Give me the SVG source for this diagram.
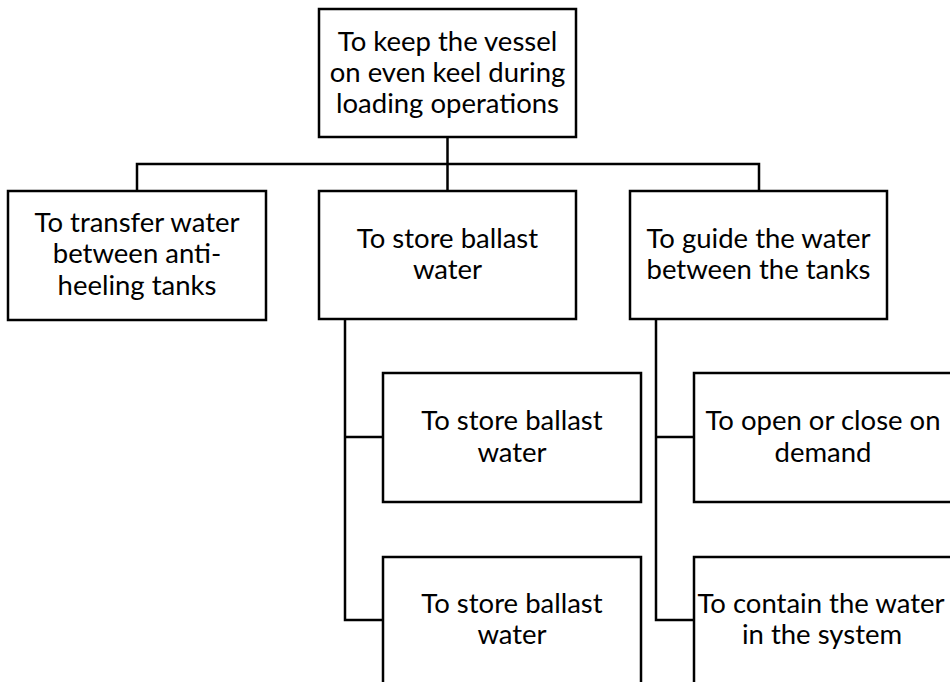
<svg xmlns="http://www.w3.org/2000/svg" width="950" height="682" viewBox="0 0 950 682">
<style>
.box{fill:#fff;stroke:#000;stroke-width:2.5}
.ln{fill:none;stroke:#000;stroke-width:2.5}
text{font-family:Lato,"Liberation Sans",sans-serif;font-size:27.5px;fill:#000;text-anchor:middle}
</style>
<rect width="950" height="682" fill="#fff"/>
<g id="connectors">
<path class="ln" d="M447.5 137V191M137 191V164H759V191"/>
<path class="ln" d="M345 319V620H383M345 437H383"/>
<path class="ln" d="M656 319V620H694M656 437H694"/>
</g>
<g id="root"><rect class="box" x="319" y="9" width="257" height="128"/>
<text x="447.5" y="51">To keep the vessel</text><text x="447.5" y="82">on even keel during</text><text x="447.5" y="113">loading operations</text></g>
<g id="transfer"><rect class="box" x="8" y="191" width="258" height="129"/>
<text x="137" y="232">To transfer water</text><text x="137" y="263">between anti-</text><text x="137" y="295">heeling tanks</text></g>
<g id="store"><rect class="box" x="319" y="191" width="257" height="128"/>
<text x="447.5" y="248">To store ballast</text><text x="447.5" y="279">water</text></g>
<g id="guide"><rect class="box" x="630" y="191" width="257" height="128"/>
<text x="758.5" y="248">To guide the water</text><text x="758.5" y="279">between the tanks</text></g>
<g id="store1"><rect class="box" x="383" y="373" width="258" height="129"/>
<text x="512" y="430">To store ballast</text><text x="512" y="462">water</text></g>
<g id="store2"><rect class="box" x="383" y="557" width="258" height="140"/>
<text x="512" y="613">To store ballast</text><text x="512" y="644">water</text></g>
<g id="open"><rect class="box" x="694" y="373" width="262" height="129"/>
<text x="823" y="430">To open or close on</text><text x="823" y="462">demand</text></g>
<g id="contain"><rect class="box" x="694" y="557" width="262" height="140"/>
<text x="821" y="613">To contain the water</text><text x="822" y="644">in the system</text></g>
</svg>
